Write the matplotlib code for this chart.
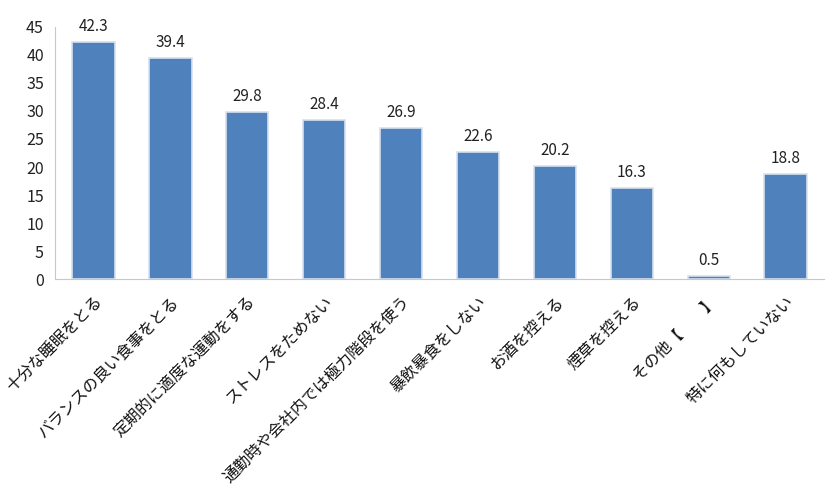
import matplotlib
matplotlib.use("Agg")
import matplotlib.pyplot as plt

plt.rcParams["font.family"] = ["Noto Sans CJK JP", "DejaVu Sans"]

categories = [
    "十分な睡眠をとる",
    "バランスの良い食事をとる",
    "定期的に適度な運動をする",
    "ストレスをためない",
    "通勤時や会社内では極力階段を使う",
    "暴飲暴食をしない",
    "お酒を控える",
    "煙草を控える",
    "その他【　　】",
    "特に何もしていない",
]
values = [42.3, 39.4, 29.8, 28.4, 26.9, 22.6, 20.2, 16.3, 0.5, 18.8]
value_labels = ["42.3", "39.4", "29.8", "28.4", "26.9", "22.6", "20.2", "16.3", "0.5", "18.8"]
yticks = [0, 5, 10, 15, 20, 25, 30, 35, 40, 45]

fig = plt.figure(figsize=(8.26, 4.97), dpi=100)
ax = fig.add_axes([0.0666, 0.4386, 0.931, 0.5071])

x = range(len(categories))
bars = ax.bar(x, values, width=0.55, color="#4F81BD",
              edgecolor="#D6E0EE", linewidth=1.2)

for b, lab in zip(bars, value_labels):
    ax.annotate(lab, (b.get_x() + b.get_width() / 2, b.get_height()),
                xytext=(0, 5), textcoords="offset points",
                ha="center", va="bottom", fontsize=11, color="#222222")

ax.set_xlim(-0.5, len(categories) - 0.5)
ax.set_ylim(0, 45)
ax.set_yticks(yticks)
ax.set_yticklabels([str(t) for t in yticks], fontsize=11.5, color="#222222")
ax.set_xticks(list(x))
ax.set_xticklabels(categories, rotation=45, ha="right", rotation_mode="anchor",
                   fontsize=11.5, color="#111111")
ax.tick_params(axis="both", length=0, pad=8)
ax.tick_params(axis="x", pad=10)

for s in ["top", "right"]:
    ax.spines[s].set_visible(False)
ax.spines["left"].set_color("#C8C8C8")
ax.spines["bottom"].set_color("#C8C8C8")

fig.savefig("out.png", dpi=100)
